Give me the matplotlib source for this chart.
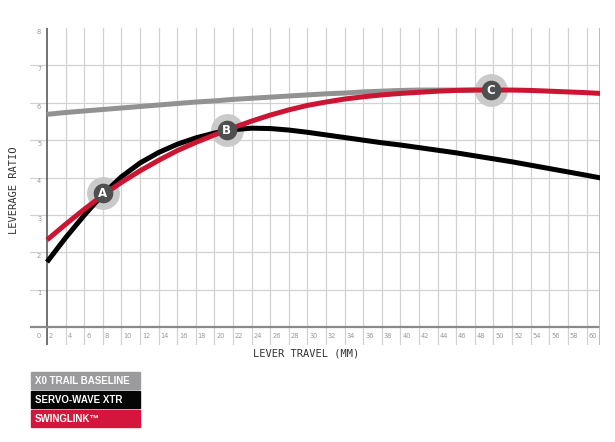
import matplotlib
matplotlib.use("Agg")
import matplotlib.pyplot as plt
from matplotlib.patches import Rectangle

# ---- data ----
x_gray = [2, 4, 6, 8, 10, 12, 14, 16, 18, 20, 22, 24, 26, 28, 30, 32, 34, 36, 38, 40, 42, 44, 46, 48]
y_gray = [5.69, 5.74, 5.78, 5.82, 5.86, 5.90, 5.94, 5.98, 6.02, 6.05, 6.09, 6.12, 6.15, 6.18,
          6.21, 6.24, 6.26, 6.29, 6.31, 6.33, 6.34, 6.34, 6.34, 6.34]

x_black = [2, 4, 6, 8, 10, 12, 14, 16, 18, 20, 22, 24, 26, 28, 30, 32, 34, 36, 38, 40, 42,
           44, 46, 48, 50, 52, 54, 56, 58, 60, 61.5]
y_black = [1.74, 2.39, 2.99, 3.55, 4.02, 4.39, 4.67, 4.89, 5.06, 5.19, 5.28, 5.32, 5.31, 5.27,
           5.21, 5.14, 5.07, 5.00, 4.93, 4.87, 4.80, 4.73, 4.66, 4.58, 4.50, 4.42, 4.33, 4.24,
           4.15, 4.06, 3.99]

x_red = [2, 4, 6, 8, 10, 12, 14, 16, 18, 20, 22, 24, 26, 28, 30, 32, 34, 36, 38, 40, 42,
         44, 46, 48, 50, 52, 54, 56, 58, 60, 61.5]
y_red = [2.33, 2.75, 3.15, 3.53, 3.87, 4.18, 4.46, 4.72, 4.94, 5.14, 5.33, 5.51, 5.67, 5.81,
         5.93, 6.02, 6.10, 6.16, 6.21, 6.25, 6.28, 6.31, 6.33, 6.34, 6.34, 6.34, 6.33, 6.31,
         6.29, 6.27, 6.25]

marker_labels = ["A", "B", "C"]
marker_x = [8.0, 21.3, 49.7]
marker_y = [3.58, 5.27, 6.34]

x_ticks = list(range(0, 61, 2))
x_tick_labels = [str(v) for v in x_ticks]
y_ticks = list(range(1, 9))
y_tick_labels = [str(v) for v in y_ticks]

series_names = ["X0 TRAIL BASELINE", "SERVO-WAVE XTR", "SWINGLINK\u2122"]
series_colors = ["#9b9b9d", "#050505", "#d4163c"]
line_colors = ["#929292", "#000000", "#cc1433"]

# ---- figure ----
W, H = 615, 442
fig = plt.figure(figsize=(W / 100, H / 100), dpi=100)
ax = fig.add_axes([30 / W, 1 - 345 / H, 570 / W, 317 / H])
ax.set_xlim(0.17, 61.45)
ax.set_ylim(-0.48, 8)
ax.axis("off")

grid_c = "#d2d2d2"
for v in x_ticks:
    if v >= 4:
        ax.axvline(v, color=grid_c, lw=0.9, zorder=1)
for v in y_ticks[:-1]:
    ax.axhline(v, color=grid_c, lw=0.9, zorder=1)
ax.axvline(2, color="#5a5a5a", lw=1.2, zorder=2)
ax.axhline(0, color="#8a8a8a", lw=1.6, zorder=2)
ax.axvline(61.45, color="#b4b4b4", lw=2.0, zorder=2)

tick_c = "#999999"
for v, lab in zip(x_ticks, x_tick_labels):
    xp = 0.9 if v == 0 else v + 0.2
    ax.text(xp, -0.24, lab, fontsize=4.8, color=tick_c, ha="left", va="center", zorder=3)
for v, lab in zip(y_ticks, y_tick_labels):
    ax.text(1.15, v - 0.1, lab, fontsize=4.8, color=tick_c, ha="center", va="center", zorder=3)

# halos
ax.scatter(marker_x, marker_y, s=560, color="#cacaca", zorder=3, linewidths=0)

lw = 3.6
kw = dict(lw=lw, solid_capstyle="butt", solid_joinstyle="round")
ax.plot(x_gray, y_gray, color=line_colors[0], zorder=4, **kw)
ax.plot(x_black, y_black, color=line_colors[1], zorder=5, **kw)
ax.plot(x_red, y_red, color=line_colors[2], zorder=6, **kw)

ax.scatter(marker_x, marker_y, s=200, color="#4f4f4f", zorder=7, linewidths=0)
for lab, mx, my in zip(marker_labels, marker_x, marker_y):
    ax.text(mx, my, lab, color="white", fontsize=8.5, fontweight="bold",
            ha="center", va="center", zorder=8)

# axis titles
fig.text(306 / W, 1 - 354 / H, "LEVER TRAVEL (MM)", fontsize=7.5, family="DejaVu Sans Mono",
         color="#333333", ha="center", va="center")
fig.text(14 / W, 1 - 190 / H, "LEVERAGE RATIO", fontsize=7.5, family="DejaVu Sans Mono",
         color="#333333", ha="center", va="center", rotation=90)

# legend boxes
box_tops = [372, 391, 410]
for name, col, top in zip(series_names, series_colors, box_tops):
    fig.patches.append(Rectangle((31 / W, 1 - (top + 17) / H), 109 / W, 17 / H,
                                 transform=fig.transFigure, color=col, zorder=1))
    fig.text(35 / W, 1 - (top + 8.8) / H, name, fontsize=7.0, family="Liberation Sans",
             fontweight="bold", color="white", ha="left", va="center", zorder=2)

fig.savefig("out.png", dpi=100)
